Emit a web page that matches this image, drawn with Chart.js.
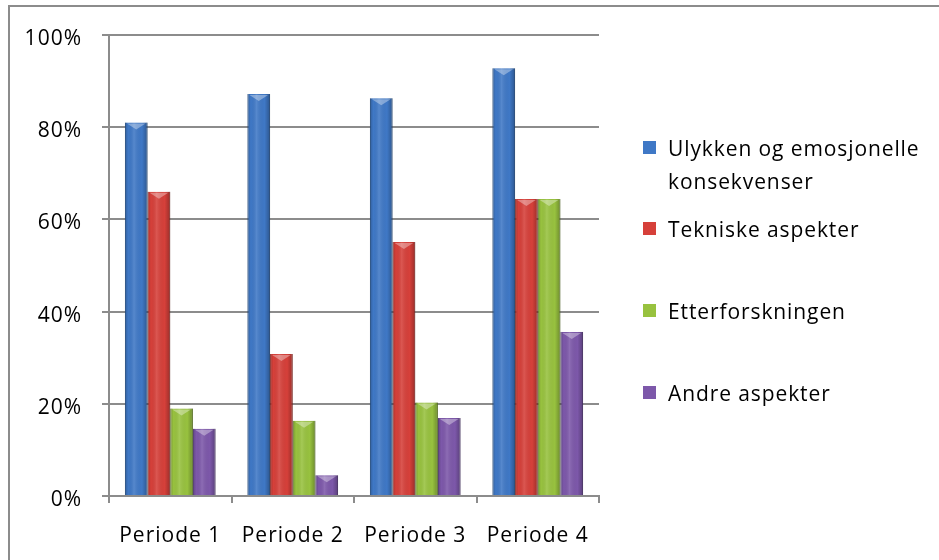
<!DOCTYPE html>
<html>
<head>
<meta charset="utf-8">
<script src="https://cdn.jsdelivr.net/npm/chart.js@4"></script>
<style>
  html, body { margin: 0; padding: 0; background: #fff; }
  #wrap { position: relative; width: 939px; height: 560px; overflow: hidden; font-family: "Open Sans", sans-serif; }
  #frame { position: absolute; left: 8px; top: 5px; width: 1000px; height: 700px; border: 2px solid #8c8c8c; box-sizing: border-box; }
  #cv { position: absolute; left: 0; top: 0; }
  .lg { position: absolute; left: 643px; font-size: 21px; color: #000; line-height: 33px; letter-spacing: 0.9px; }
  .lg i { position: absolute; left: 0; width: 13px; height: 13px; }
  .lg span { position: absolute; left: 25px; white-space: nowrap; }
</style>
</head>
<body>
<div id="wrap">
  <div id="frame"></div>
  <canvas id="cv" width="939" height="560"></canvas>
  <div id="legend"></div>
</div>
<script>
const categories = ["Periode 1", "Periode 2", "Periode 3", "Periode 4"];
const seriesNames = [["Ulykken og emosjonelle", "konsekvenser"], ["Tekniske aspekter"], ["Etterforskningen"], ["Andre aspekter"]];
const ulykken = [81, 87.2, 86.3, 92.8];
const tekniske = [66, 30.8, 55.1, 64.4];
const etterforskningen = [19, 16.3, 20.3, 64.4];
const andre = [14.6, 4.5, 16.9, 35.6];
const yTicks = [0, 20, 40, 60, 80, 100];

const colors = ["#3f78c6", "#d6403a", "#98c23f", "#7d58aa"];
const borders = ["#2d5f9e", "#a8302c", "#76982f", "#5f4285"];
const values = [ulykken, tekniske, etterforskningen, andre];
const legendY = [148, 229, 311, 393];

const datasets = values.map((v, i) => ({
  label: seriesNames[i].join(" "),
  data: v,
  backgroundColor: colors[i],
  borderColor: borders[i],
  borderWidth: { left: 1, right: 1, top: 0, bottom: 0 },
  barPercentage: 1.0,
  categoryPercentage: 0.74
}));

const shading = {
  id: "shading",
  beforeDraw(chart) { chart.ctx.letterSpacing = "1px"; },
  afterDatasetsDraw(chart) {
    const ctx = chart.ctx;
    ctx.save();
    chart.data.datasets.forEach((ds, di) => {
      chart.getDatasetMeta(di).data.forEach(bar => {
        const l = bar.x - bar.width / 2, r = bar.x + bar.width / 2;
        const g = ctx.createLinearGradient(l, 0, r, 0);
        g.addColorStop(0, "rgba(0,0,0,0.22)");
        g.addColorStop(0.15, "rgba(0,0,0,0.0)");
        g.addColorStop(0.4, "rgba(255,255,255,0.12)");
        g.addColorStop(0.75, "rgba(0,0,0,0.0)");
        g.addColorStop(1, "rgba(0,0,0,0.28)");
        ctx.fillStyle = g;
        ctx.fillRect(l, bar.y, bar.width, bar.base - bar.y);
        ctx.fillStyle = "rgba(255,255,255,0.35)";
        ctx.beginPath();
        ctx.moveTo(l + 2, bar.y + 1);
        ctx.lineTo(r - 2, bar.y + 1);
        ctx.lineTo(bar.x, bar.y + 7);
        ctx.closePath();
        ctx.fill();
      });
    });
    ctx.restore();
  }
};

new Chart(document.getElementById("cv"), {
  type: "bar",
  data: { labels: categories, datasets },
  plugins: [shading],
  options: {
    responsive: false,
    animation: false,
    devicePixelRatio: 1,
    layout: { padding: { left: 0, top: 35, right: 340, bottom: 0 } },
    plugins: { legend: { display: false }, tooltip: { enabled: false } },
    scales: {
      x: {
        grid: { drawOnChartArea: false, drawTicks: true, tickLength: 7, color: "#8c8c8c", lineWidth: 2, offset: true },
        border: { color: "#8c8c8c", width: 2 },
        ticks: { color: "#000", font: { family: "Open Sans", size: 21 }, padding: 20 },
        afterFit: s => { s.height = 64; }
      },
      y: {
        min: 0, max: 100,
        afterBuildTicks: s => { s.ticks = yTicks.map(v => ({ value: v })); },
        grid: { color: "#8c8c8c", lineWidth: 2, tickLength: 7 },
        border: { color: "#8c8c8c", width: 2 },
        ticks: { color: "#000", font: { family: "Open Sans", size: 21 }, padding: 20, labelOffset: 4, callback: v => v + "%" },
        afterFit: s => { s.width = 109; }
      }
    }
  }
});

const lg = document.getElementById("legend");
seriesNames.forEach((lines, i) => {
  const d = document.createElement("div");
  d.className = "lg";
  d.style.top = (legendY[i] - 16) + "px";
  const box = document.createElement("i");
  box.style.background = colors[i];
  box.style.top = "9px";
  d.appendChild(box);
  lines.forEach((t, k) => {
    const s = document.createElement("span");
    s.textContent = t;
    s.style.top = (k * 33) + "px";
    d.appendChild(s);
  });
  lg.appendChild(d);
});
</script>
</body>
</html>
